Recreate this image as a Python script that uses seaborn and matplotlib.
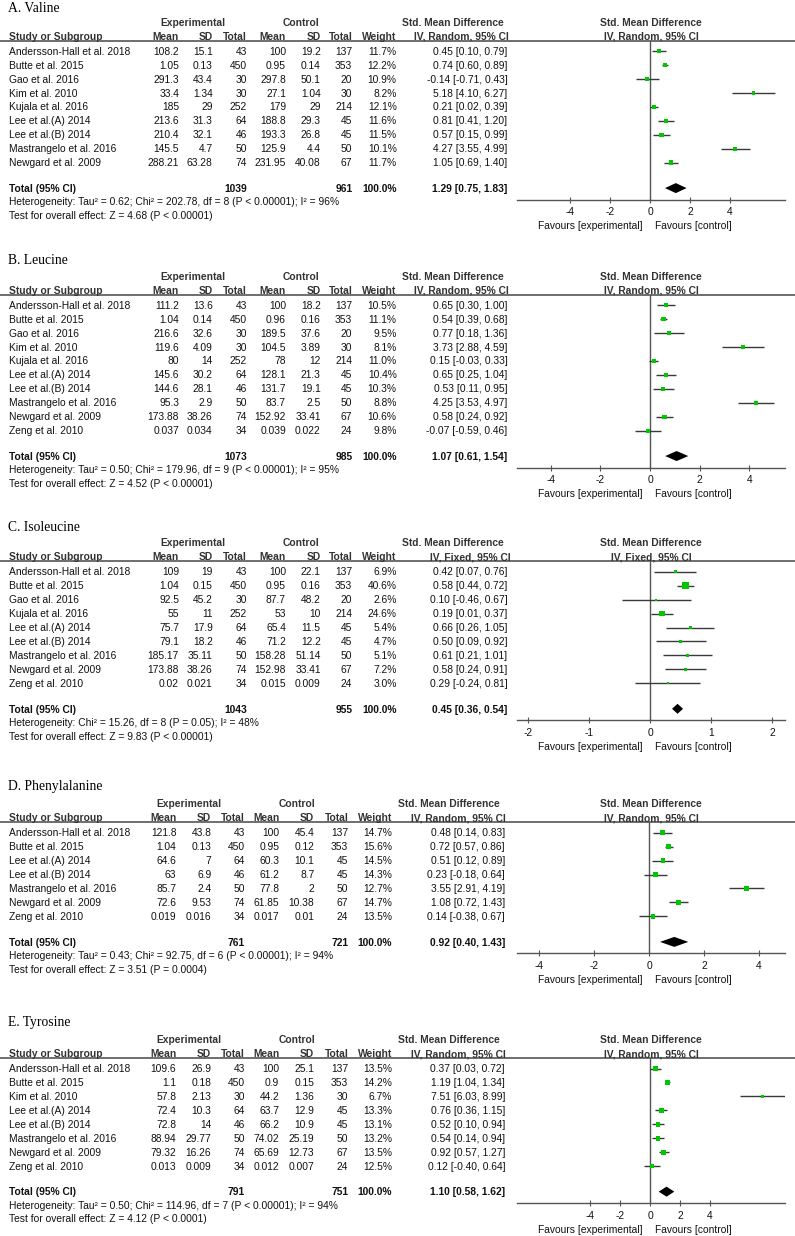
import numpy as np
import pandas as pd
import matplotlib
matplotlib.use("Agg")
import matplotlib.pyplot as plt
import seaborn as sns

sns.set_theme(style="white")
plt.rcParams['font.family'] = ['Liberation Sans', 'DejaVu Sans']
plt.rcParams['axes.unicode_minus'] = False

# ---------------- Panel A: Valine ----------------
studies_A = ["Andersson-Hall et al. 2018", "Butte et al. 2015", "Gao et al. 2016", "Kim et al. 2010",
             "Kujala et al. 2016", "Lee et al.(A) 2014", "Lee et al.(B) 2014", "Mastrangelo et al. 2016",
             "Newgard et al. 2009"]
exp_mean_A = [108.2, 1.05, 291.3, 33.4, 185, 213.6, 210.4, 145.5, 288.21]
exp_sd_A = [15.1, 0.13, 43.4, 1.34, 29, 31.3, 32.1, 4.7, 63.28]
exp_n_A = [43, 450, 30, 30, 252, 64, 46, 50, 74]
ctl_mean_A = [100, 0.95, 297.8, 27.1, 179, 188.8, 193.3, 125.9, 231.95]
ctl_sd_A = [19.2, 0.14, 50.1, 1.04, 29, 29.3, 26.8, 4.4, 40.08]
ctl_n_A = [137, 353, 20, 30, 214, 45, 45, 50, 67]
weight_A = [11.7, 12.2, 10.9, 8.2, 12.1, 11.6, 11.5, 10.1, 11.7]
smd_A = [0.45, 0.74, -0.14, 5.18, 0.21, 0.81, 0.57, 4.27, 1.05]
lo_A = [0.10, 0.60, -0.71, 4.10, 0.02, 0.41, 0.15, 3.55, 0.69]
hi_A = [0.79, 0.89, 0.43, 6.27, 0.39, 1.20, 0.99, 4.99, 1.40]
total_A = [1039, 961, 1.29, 0.75, 1.83]
het_A = "Heterogeneity: Tau² = 0.62; Chi² = 202.78, df = 8 (P < 0.00001); I² = 96%"
test_A = "Test for overall effect: Z = 4.68 (P < 0.00001)"

# ---------------- Panel B: Leucine ----------------
studies_B = ["Andersson-Hall et al. 2018", "Butte et al. 2015", "Gao et al. 2016", "Kim et al. 2010",
             "Kujala et al. 2016", "Lee et al.(A) 2014", "Lee et al.(B) 2014", "Mastrangelo et al. 2016",
             "Newgard et al. 2009", "Zeng et al. 2010"]
exp_mean_B = [111.2, 1.04, 216.6, 119.6, 80, 145.6, 144.6, 95.3, 173.88, 0.037]
exp_sd_B = [13.6, 0.14, 32.6, 4.09, 14, 30.2, 28.1, 2.9, 38.26, 0.034]
exp_n_B = [43, 450, 30, 30, 252, 64, 46, 50, 74, 34]
ctl_mean_B = [100, 0.96, 189.5, 104.5, 78, 128.1, 131.7, 83.7, 152.92, 0.039]
ctl_sd_B = [18.2, 0.16, 37.6, 3.89, 12, 21.3, 19.1, 2.5, 33.41, 0.022]
ctl_n_B = [137, 353, 20, 30, 214, 45, 45, 50, 67, 24]
weight_B = [10.5, 11.1, 9.5, 8.1, 11.0, 10.4, 10.3, 8.8, 10.6, 9.8]
smd_B = [0.65, 0.54, 0.77, 3.73, 0.15, 0.65, 0.53, 4.25, 0.58, -0.07]
lo_B = [0.30, 0.39, 0.18, 2.88, -0.03, 0.25, 0.11, 3.53, 0.24, -0.59]
hi_B = [1.00, 0.68, 1.36, 4.59, 0.33, 1.04, 0.95, 4.97, 0.92, 0.46]
total_B = [1073, 985, 1.07, 0.61, 1.54]
het_B = "Heterogeneity: Tau² = 0.50; Chi² = 179.96, df = 9 (P < 0.00001); I² = 95%"
test_B = "Test for overall effect: Z = 4.52 (P < 0.00001)"

# ---------------- Panel C: Isoleucine ----------------
studies_C = ["Andersson-Hall et al. 2018", "Butte et al. 2015", "Gao et al. 2016", "Kujala et al. 2016",
             "Lee et al.(A) 2014", "Lee et al.(B) 2014", "Mastrangelo et al. 2016", "Newgard et al. 2009",
             "Zeng et al. 2010"]
exp_mean_C = [109, 1.04, 92.5, 55, 75.7, 79.1, 185.17, 173.88, 0.02]
exp_sd_C = [19, 0.15, 45.2, 11, 17.9, 18.2, 35.11, 38.26, 0.021]
exp_n_C = [43, 450, 30, 252, 64, 46, 50, 74, 34]
ctl_mean_C = [100, 0.95, 87.7, 53, 65.4, 71.2, 158.28, 152.98, 0.015]
ctl_sd_C = [22.1, 0.16, 48.2, 10, 11.5, 12.2, 51.14, 33.41, 0.009]
ctl_n_C = [137, 353, 20, 214, 45, 45, 50, 67, 24]
weight_C = [6.9, 40.6, 2.6, 24.6, 5.4, 4.7, 5.1, 7.2, 3.0]
smd_C = [0.42, 0.58, 0.10, 0.19, 0.66, 0.50, 0.61, 0.58, 0.29]
lo_C = [0.07, 0.44, -0.46, 0.01, 0.26, 0.09, 0.21, 0.24, -0.24]
hi_C = [0.76, 0.72, 0.67, 0.37, 1.05, 0.92, 1.01, 0.91, 0.81]
total_C = [1043, 955, 0.45, 0.36, 0.54]
het_C = "Heterogeneity: Chi² = 15.26, df = 8 (P = 0.05); I² = 48%"
test_C = "Test for overall effect: Z = 9.83 (P < 0.00001)"

# ---------------- Panel D: Phenylalanine ----------------
studies_D = ["Andersson-Hall et al. 2018", "Butte et al. 2015", "Lee et al.(A) 2014", "Lee et al.(B) 2014",
             "Mastrangelo et al. 2016", "Newgard et al. 2009", "Zeng et al. 2010"]
exp_mean_D = [121.8, 1.04, 64.6, 63, 85.7, 72.6, 0.019]
exp_sd_D = [43.8, 0.13, 7, 6.9, 2.4, 9.53, 0.016]
exp_n_D = [43, 450, 64, 46, 50, 74, 34]
ctl_mean_D = [100, 0.95, 60.3, 61.2, 77.8, 61.85, 0.017]
ctl_sd_D = [45.4, 0.12, 10.1, 8.7, 2, 10.38, 0.01]
ctl_n_D = [137, 353, 45, 45, 50, 67, 24]
weight_D = [14.7, 15.6, 14.5, 14.3, 12.7, 14.7, 13.5]
smd_D = [0.48, 0.72, 0.51, 0.23, 3.55, 1.08, 0.14]
lo_D = [0.14, 0.57, 0.12, -0.18, 2.91, 0.72, -0.38]
hi_D = [0.83, 0.86, 0.89, 0.64, 4.19, 1.43, 0.67]
total_D = [761, 721, 0.92, 0.40, 1.43]
het_D = "Heterogeneity: Tau² = 0.43; Chi² = 92.75, df = 6 (P < 0.00001); I² = 94%"
test_D = "Test for overall effect: Z = 3.51 (P = 0.0004)"

# ---------------- Panel E: Tyrosine ----------------
studies_E = ["Andersson-Hall et al. 2018", "Butte et al. 2015", "Kim et al. 2010", "Lee et al.(A) 2014",
             "Lee et al.(B) 2014", "Mastrangelo et al. 2016", "Newgard et al. 2009", "Zeng et al. 2010"]
exp_mean_E = [109.6, 1.1, 57.8, 72.4, 72.8, 88.94, 79.32, 0.013]
exp_sd_E = [26.9, 0.18, 2.13, 10.3, 14, 29.77, 16.26, 0.009]
exp_n_E = [43, 450, 30, 64, 46, 50, 74, 34]
ctl_mean_E = [100, 0.9, 44.2, 63.7, 66.2, 74.02, 65.69, 0.012]
ctl_sd_E = [25.1, 0.15, 1.36, 12.9, 10.9, 25.19, 12.73, 0.007]
ctl_n_E = [137, 353, 30, 45, 45, 50, 67, 24]
weight_E = [13.5, 14.2, 6.7, 13.3, 13.1, 13.2, 13.5, 12.5]
smd_E = [0.37, 1.19, 7.51, 0.76, 0.52, 0.54, 0.92, 0.12]
lo_E = [0.03, 1.04, 6.03, 0.36, 0.10, 0.14, 0.57, -0.40]
hi_E = [0.72, 1.34, 8.99, 1.15, 0.94, 0.94, 1.27, 0.64]
total_E = [791, 751, 1.10, 0.58, 1.62]
het_E = "Heterogeneity: Tau² = 0.50; Chi² = 114.96, df = 7 (P < 0.00001); I² = 94%"
test_E = "Test for overall effect: Z = 4.12 (P < 0.0001)"

titles = ["A. Valine", "B. Leucine", "C. Isoleucine", "D. Phenylalanine", "E. Tyrosine"]
methods = ["IV, Random, 95% CI", "IV, Random, 95% CI", "IV, Fixed, 95% CI",
           "IV, Random, 95% CI", "IV, Random, 95% CI"]
axis_ticks = [[-4, -2, 0, 2, 4], [-4, -2, 0, 2, 4], [-2, -1, 0, 1, 2], [-4, -2, 0, 2, 4], [-4, -2, 0, 2, 4]]

# ---------------- layout (pixels) ----------------
W, H = 795, 1236
FS = 7.4
GREEN = '#00c800'
LINE = '#555555'
HEAD = '#333333'
title_y = [7.5, 259, 526, 785, 1021]
row0_y = [51, 305, 571.7, 832.7, 1068.5]
STEP = 13.95
xlims = [(-6.65, 6.75), (-5.35, 5.43), (-2.18, 2.21), (-4.82, 4.96), (-8.87, 9.0)]
square_k = [0.85, 0.85, 0.68, 0.85, 0.85]
colsABC = dict(name=9, em=179, esd=212.7, en=246.7, cm=286, csd=320.7, cn=352.3, w=396.7,
               ci=507.3, exp_c=193, ctl_c=301, smd_c=452.8)
colsDE = dict(name=9, em=176.3, esd=211.3, en=245, cm=279.3, csd=314.3, cn=348.3, w=392,
              ci=505, exp_c=188.7, ctl_c=297.3, smd_c=449)
panel_cols = [colsABC, colsABC, colsABC, colsDE, colsDE]
PX0, PX1 = 517, 785

panels = [
    dict(studies=studies_A, em=exp_mean_A, esd=exp_sd_A, en=exp_n_A, cm=ctl_mean_A, csd=ctl_sd_A,
         cn=ctl_n_A, w=weight_A, smd=smd_A, lo=lo_A, hi=hi_A, tot=total_A, het=het_A, test=test_A),
    dict(studies=studies_B, em=exp_mean_B, esd=exp_sd_B, en=exp_n_B, cm=ctl_mean_B, csd=ctl_sd_B,
         cn=ctl_n_B, w=weight_B, smd=smd_B, lo=lo_B, hi=hi_B, tot=total_B, het=het_B, test=test_B),
    dict(studies=studies_C, em=exp_mean_C, esd=exp_sd_C, en=exp_n_C, cm=ctl_mean_C, csd=ctl_sd_C,
         cn=ctl_n_C, w=weight_C, smd=smd_C, lo=lo_C, hi=hi_C, tot=total_C, het=het_C, test=test_C),
    dict(studies=studies_D, em=exp_mean_D, esd=exp_sd_D, en=exp_n_D, cm=ctl_mean_D, csd=ctl_sd_D,
         cn=ctl_n_D, w=weight_D, smd=smd_D, lo=lo_D, hi=hi_D, tot=total_D, het=het_D, test=test_D),
    dict(studies=studies_E, em=exp_mean_E, esd=exp_sd_E, en=exp_n_E, cm=ctl_mean_E, csd=ctl_sd_E,
         cn=ctl_n_E, w=weight_E, smd=smd_E, lo=lo_E, hi=hi_E, tot=total_E, het=het_E, test=test_E),
]

fig = plt.figure(figsize=(W / 100, H / 100), dpi=100)
fig.patch.set_facecolor('white')
bg = fig.add_axes([0, 0, 1, 1])
bg.set_xlim(0, W)
bg.set_ylim(H, 0)
bg.axis('off')


def txt(x, y, s, ha='left', bold=False, size=FS, family=None, color='#111111'):
    kw = {}
    if family is not None:
        kw['family'] = family
    bg.text(x, y + size * 0.5, s, ha=ha, va='baseline', fontsize=size,
            fontweight='bold' if bold else 'normal', color=color, **kw)


def fmt(v):
    return '{:g}'.format(v)


def fci(e, l, h):
    return '{:.2f} [{:.2f}, {:.2f}]'.format(e, l, h)


for p, d in enumerate(panels):
    c = panel_cols[p]
    r0 = row0_y[p]
    n = len(d['studies'])
    rows = [r0 + i * STEP for i in range(n)]
    h1, h2, line_y = r0 - 29, r0 - 15, r0 - 10.5
    tot_y = rows[-1] + 25.5
    axis_y = tot_y + 11.5
    pc = (PX0 + PX1) / 2

    # title
    txt(8, title_y[p], titles[p], size=9.8, family=['Liberation Serif', 'DejaVu Serif'], color='#000000')
    # headers
    txt(c['exp_c'], h1, 'Experimental', ha='center', bold=True, color=HEAD)
    txt(c['ctl_c'], h1, 'Control', ha='center', bold=True, color=HEAD)
    txt(c['smd_c'], h1, 'Std. Mean Difference', ha='center', bold=True, color=HEAD)
    txt(pc, h1, 'Std. Mean Difference', ha='center', bold=True, color=HEAD)
    txt(c['name'], h2, 'Study or Subgroup', bold=True, color=HEAD)
    for key, lab in [('em', 'Mean'), ('esd', 'SD'), ('en', 'Total'), ('cm', 'Mean'),
                     ('csd', 'SD'), ('cn', 'Total'), ('w', 'Weight')]:
        txt(c[key], h2, lab, ha='right', bold=True, color=HEAD)
    txt(c['ci'] + (3 if 'Fixed' in methods[p] else 1), h2, methods[p], ha='right', bold=True, color=HEAD)
    txt(pc, h2, methods[p], ha='center', bold=True, color=HEAD)
    bg.plot([0, W], [line_y, line_y], color=LINE, lw=1.2, solid_capstyle='butt')

    # rows
    for i in range(n):
        y = rows[i]
        txt(c['name'], y, d['studies'][i])
        txt(c['em'], y, fmt(d['em'][i]), ha='right')
        txt(c['esd'], y, fmt(d['esd'][i]), ha='right')
        txt(c['en'], y, fmt(d['en'][i]), ha='right')
        txt(c['cm'], y, fmt(d['cm'][i]), ha='right')
        txt(c['csd'], y, fmt(d['csd'][i]), ha='right')
        txt(c['cn'], y, fmt(d['cn'][i]), ha='right')
        txt(c['w'], y, '{:.1f}%'.format(d['w'][i]), ha='right')
        txt(c['ci'], y, fci(d['smd'][i], d['lo'][i], d['hi'][i]), ha='right')

    tn_e, tn_c, te, tl, th = d['tot']
    txt(c['name'], tot_y, 'Total (95% CI)', bold=True)
    txt(c['en'], tot_y, fmt(tn_e), ha='right', bold=True)
    txt(c['cn'], tot_y, fmt(tn_c), ha='right', bold=True)
    txt(c['w'], tot_y, '100.0%', ha='right', bold=True)
    txt(c['ci'], tot_y, fci(te, tl, th), ha='right', bold=True)
    txt(c['name'], tot_y + 13.5, d['het'])
    txt(c['name'], tot_y + 27, d['test'])

    # forest axes
    ax = fig.add_axes([PX0 / W, 1 - axis_y / H, (PX1 - PX0) / W, (axis_y - line_y) / H])
    ax.patch.set_alpha(0)
    ax.set_xlim(*xlims[p])
    ax.set_ylim(axis_y, line_y)
    for s in ['top', 'right', 'left']:
        ax.spines[s].set_visible(False)
    ax.spines['bottom'].set_color(LINE)
    ax.spines['bottom'].set_linewidth(1.0)
    ax.axvline(0, color=LINE, lw=1.0, zorder=1)
    ax.hlines(rows, d['lo'], d['hi'], color='#3a3a3a', lw=1.0, zorder=2)
    wts = np.array(d['w'])
    k = square_k[p]
    sns.scatterplot(x=d['smd'], y=rows, size=d['w'], sizes=(k * wts.min(), k * wts.max()),
                    marker='s', color=GREEN, linewidth=0, legend=False, ax=ax, zorder=3)
    hh = 5.0
    ax.fill([tl, te, th, te], [tot_y, tot_y - hh, tot_y, tot_y + hh], color='black', lw=0, zorder=3)
    ax.set_xticks(axis_ticks[p])
    ax.set_xticklabels([str(t) for t in axis_ticks[p]])
    ax.set_yticks([])
    ax.set_xlabel('')
    ax.set_ylabel('')
    ax.tick_params(axis='x', direction='inout', length=5, width=0.8, color=LINE,
                   labelsize=FS, pad=3, labelcolor='#111111', bottom=True)
    txt(pc - 8, axis_y + 26, 'Favours [experimental]', ha='right')
    txt(pc + 4, axis_y + 26, 'Favours [control]', ha='left')

fig.savefig('out.png', dpi=100, facecolor='white')
